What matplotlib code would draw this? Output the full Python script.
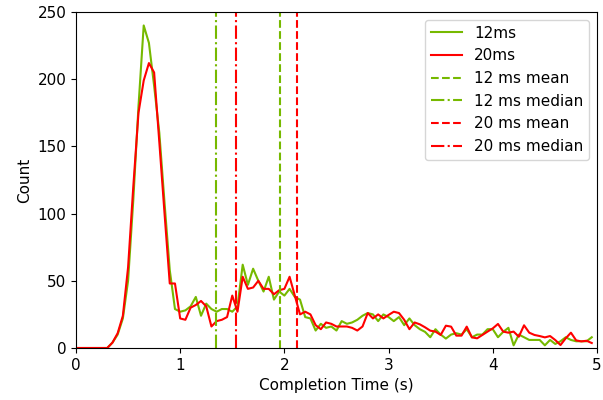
import matplotlib
matplotlib.use("Agg")
import matplotlib.pyplot as plt
import numpy as np

plt.rcParams['font.size'] = 11

# histogram bins (left edges, 0.05 s wide)
t = np.round(np.arange(0, 5, 0.05), 2)

counts_12ms = [0, 0, 0, 0, 0, 0, 0, 4, 10, 22,
               50, 110, 180, 240, 227, 195, 160, 108, 58, 29,
               27, 28, 31, 38, 24, 33, 29, 27, 29, 29,
               27, 31, 62, 47, 59, 50, 42, 53, 36, 42,
               39, 44, 38, 36, 23, 22, 13, 18, 15, 16,
               13, 20, 18, 19, 21, 24, 26, 25, 20, 25,
               23, 20, 23, 17, 22, 17, 14, 12, 8, 14,
               10, 7, 10, 11, 10, 14, 8, 10, 10, 14,
               14, 8, 12, 15, 2, 10, 8, 6, 6, 6,
               2, 6, 3, 5, 8, 6, 5, 5, 5, 8]

counts_20ms = [0, 0, 0, 0, 0, 0, 0, 4, 11, 24,
               60, 120, 175, 199, 212, 205, 153, 100, 48, 48,
               22, 21, 30, 32, 35, 31, 16, 20, 21, 23,
               39, 27, 53, 44, 45, 50, 44, 44, 40, 43,
               44, 53, 39, 25, 27, 25, 17, 14, 19, 18,
               16, 16, 16, 15, 13, 16, 26, 22, 25, 22,
               24.6, 27, 26, 21, 14, 19, 17.6, 15.4, 12.9, 12.2,
               9.7, 16.6, 15.9, 9.2, 9.2, 15.9, 7.9, 7.2, 9.7, 12.2,
               14.6, 17.9, 12.2, 11.4, 12.2, 8.4, 16.9, 11.4, 9.7, 8.9,
               7.9, 8.9, 5.9, 2.2, 7.2, 11.4, 5.7, 4.9, 5.4, 3.7]

mean_12, median_12 = 1.96, 1.345
mean_20, median_20 = 2.12, 1.535

green = '#76b900'
red = '#ff0000'

fig = plt.figure(figsize=(6.03, 4.0), dpi=100)
ax = fig.add_axes([0.126, 0.13, 0.864, 0.84])

ax.plot(t, counts_12ms, color=green, lw=1.5, label='12ms')
ax.plot(t, counts_20ms, color=red, lw=1.5, label='20ms')
ax.axvline(mean_12, color=green, ls='--', lw=1.5, label='12 ms mean')
ax.axvline(median_12, color=green, ls='-.', lw=1.5, label='12 ms median')
ax.axvline(mean_20, color=red, ls='--', lw=1.5, label='20 ms mean')
ax.axvline(median_20, color=red, ls='-.', lw=1.5, label='20 ms median')

ax.set_xlim(0, 5)
ax.set_ylim(0, 250)
ax.set_xlabel('Completion Time (s)')
ax.set_ylabel('Count')
ax.legend(loc='upper right')

fig.savefig('out.png', dpi=100)
